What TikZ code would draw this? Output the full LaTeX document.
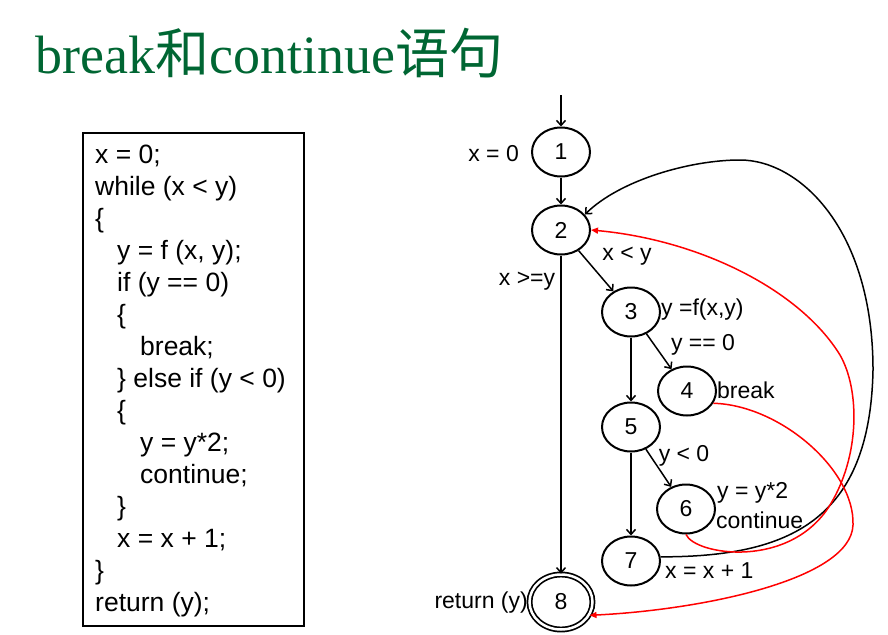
\documentclass[tikz,border=0pt]{standalone}
\usepackage{fontspec}
\setmainfont{Liberation Sans}
\newfontfamily\titlefont{Liberation Serif}
\newfontfamily\cjk{Noto Sans CJK SC}
\usetikzlibrary{shapes.geometric,arrows.meta}
\definecolor{titlegreen}{RGB}{0,102,51}

\begin{document}
\begin{tikzpicture}[x=1pt,y=-1pt,
  state/.style={ellipse, draw, line width=2pt, minimum width=58pt, minimum height=49pt, inner sep=0pt, font=\fontsize{23}{25}\selectfont},
  final/.style={state, double, line width=1.7pt, double distance=2.5pt, minimum width=63pt, minimum height=55pt},
  flow/.style={line width=1.5pt, -{Straight Barb[length=5pt,width=9pt]}},
  jump/.style={line width=1.5pt, red, -{Triangle[length=7pt,width=6pt]}},
  lbl/.style={inner sep=0pt, font=\fontsize{23}{25}\selectfont}]
  \useasboundingbox (0,0) rectangle (888,634);

  % Title
  \node[anchor=base west, inner sep=0pt, text=titlegreen, font=\fontsize{54}{58}\selectfont] (title) at (35,74)
    {\titlefont break\cjk 和\titlefont continue\cjk 语句};

  % Source code
  \draw[line width=2pt] (83,133) rectangle (304,626);
  \node[anchor=north west, align=left, inner sep=0pt, font=\fontsize{26.5}{32}\selectfont] (code) at (95,144.5) {%
    x = 0;\\
    while (x < y)\\
    \{\\
    \hspace*{22pt}y = f (x, y);\\
    \hspace*{22pt}if (y == 0)\\
    \hspace*{22pt}\{\\
    \hspace*{45pt}break;\\
    \hspace*{22pt}\} else if (y < 0)\\
    \hspace*{22pt}\{\\
    \hspace*{45pt}y = y*2;\\
    \hspace*{45pt}continue;\\
    \hspace*{22pt}\}\\
    \hspace*{22pt}x = x + 1;\\
    \}\\
    return (y);};

  % Flow graph
  \coordinate (entry) at (561,95);
  \node[state] (n1) at (561,152) {1};
  \node[state] (n2) at (561,230) {2};
  \node[state] (n3) at (631,312) {3};
  \node[state] (n4) at (687,391) {4};
  \node[state] (n5) at (631,427) {5};
  \node[state] (n6) at (686,509) {6};
  \node[state] (n7) at (631,561) {7};
  \node[final] (n8) at (561,602) {8};

  % Labels
  \node[lbl, anchor=east] (l1) at (519,154) {x = 0};
  \node[lbl] (l23) at (627,256) {x < y};
  \node[lbl] (l28) at (527,281) {x >=y};
  \node[lbl, anchor=west] (l3) at (661,310) {y =f(x,y)};
  \node[lbl] (l34) at (703,345) {y == 0};
  \node[lbl, anchor=west] (l4) at (717,390) {break};
  \node[lbl] (l56) at (684,456) {y < 0};
  \node[lbl, anchor=west] (l6a) at (717,493) {y = y*2};
  \node[lbl, anchor=west] (l6b) at (716,520) {continue};
  \node[lbl, anchor=west] (l7) at (665,571) {x = x + 1};
  \node[lbl, anchor=east] (l8) at (528,603) {return (y)};

  % Edges
  \draw[flow] (entry) -- (n1);
  \draw[flow] (n1) -- (n2);
  \draw[flow] (n2) -- (n3);
  \draw[flow] (n2) -- (n8);
  \draw[flow] (n3) -- (n4);
  \draw[flow] (n3) -- (n5);
  \draw[flow] (n5) -- (n6);
  \draw[flow] (n5) -- (n7);
  \draw[flow] (n7.8) .. controls (790,557) and (870,520) .. (873,370)
    .. controls (873,230) and (800,160) .. (740,160)
    .. controls (690,160) and (620,180) .. (n2.33);
  \draw[jump] (n6.south) .. controls (695,555) and (790,570) .. (830,505)
    .. controls (860,456) and (860,390) .. (840,355)
    .. controls (800,290) and (700,240) .. (n2.east);
  \draw[jump] (n4.-25) .. controls (780,405) and (855,470) .. (853,525)
    .. controls (851,580) and (700,610) .. (n8.-25);
\end{tikzpicture}
\end{document}
